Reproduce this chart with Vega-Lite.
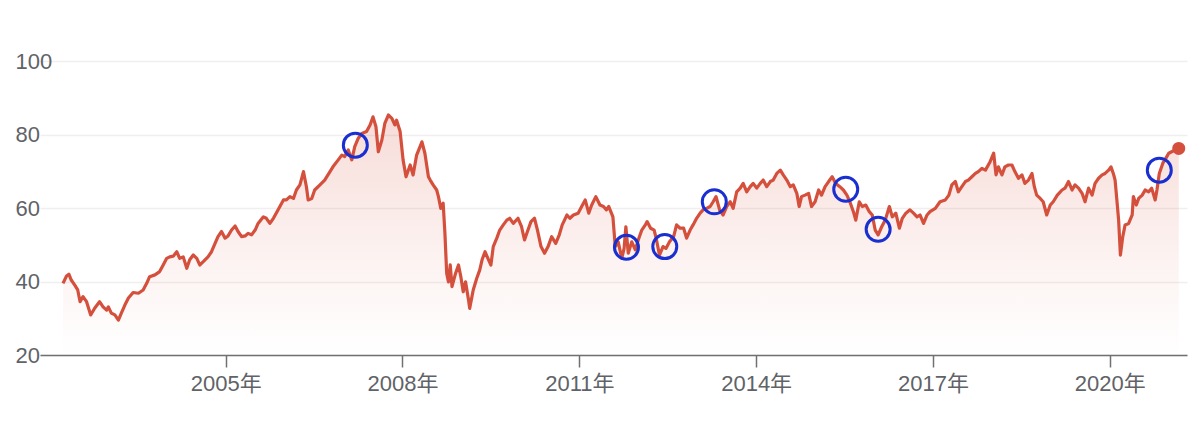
{
  "$schema": "https://vega.github.io/schema/vega-lite/v6.json",
  "width": 1147,
  "height": 294,
  "autosize": {"type": "none"},
  "padding": {"left": 40, "top": 61, "right": 13, "bottom": 71},
  "background": "#ffffff",
  "view": {"stroke": null},
  "config": {
    "font": "Liberation Sans, Arial, Noto Sans CJK SC, sans-serif"
  },
  "datasets": {
    "series": [
      {"year": 2002.24, "value": 39.5}, {"year": 2002.30, "value": 41.5}, {"year": 2002.34, "value": 42.0}, {"year": 2002.38, "value": 40.4},
      {"year": 2002.44, "value": 39.0}, {"year": 2002.49, "value": 37.7}, {"year": 2002.53, "value": 34.5}, {"year": 2002.58, "value": 35.9},
      {"year": 2002.64, "value": 34.5}, {"year": 2002.71, "value": 30.9}, {"year": 2002.78, "value": 32.8}, {"year": 2002.86, "value": 34.5},
      {"year": 2002.92, "value": 33.1}, {"year": 2002.98, "value": 32.2}, {"year": 2003.01, "value": 33.1}, {"year": 2003.06, "value": 31.4},
      {"year": 2003.12, "value": 30.9}, {"year": 2003.18, "value": 29.5}, {"year": 2003.23, "value": 31.4}, {"year": 2003.29, "value": 33.6},
      {"year": 2003.35, "value": 35.5}, {"year": 2003.43, "value": 37.0}, {"year": 2003.52, "value": 36.8}, {"year": 2003.60, "value": 37.7},
      {"year": 2003.66, "value": 39.5}, {"year": 2003.71, "value": 41.3}, {"year": 2003.80, "value": 41.8}, {"year": 2003.88, "value": 42.7},
      {"year": 2003.94, "value": 44.5}, {"year": 2004.00, "value": 46.3}, {"year": 2004.05, "value": 46.7}, {"year": 2004.11, "value": 46.9},
      {"year": 2004.17, "value": 48.1}, {"year": 2004.22, "value": 46.3}, {"year": 2004.28, "value": 46.7}, {"year": 2004.34, "value": 43.6},
      {"year": 2004.39, "value": 45.9}, {"year": 2004.45, "value": 47.2}, {"year": 2004.51, "value": 46.3}, {"year": 2004.56, "value": 44.5},
      {"year": 2004.62, "value": 45.4}, {"year": 2004.70, "value": 46.7}, {"year": 2004.76, "value": 48.1}, {"year": 2004.82, "value": 50.4},
      {"year": 2004.87, "value": 52.2}, {"year": 2004.93, "value": 53.6}, {"year": 2004.99, "value": 51.8}, {"year": 2005.04, "value": 52.4},
      {"year": 2005.10, "value": 54.0}, {"year": 2005.16, "value": 55.1}, {"year": 2005.21, "value": 53.6}, {"year": 2005.27, "value": 52.2},
      {"year": 2005.33, "value": 52.4}, {"year": 2005.38, "value": 53.1}, {"year": 2005.44, "value": 52.7}, {"year": 2005.50, "value": 54.0},
      {"year": 2005.55, "value": 55.8}, {"year": 2005.64, "value": 57.6}, {"year": 2005.69, "value": 57.2}, {"year": 2005.75, "value": 55.8},
      {"year": 2005.81, "value": 57.2}, {"year": 2005.89, "value": 59.5}, {"year": 2005.98, "value": 62.2}, {"year": 2006.03, "value": 62.2},
      {"year": 2006.09, "value": 63.1}, {"year": 2006.15, "value": 62.6}, {"year": 2006.20, "value": 64.9}, {"year": 2006.26, "value": 66.3},
      {"year": 2006.32, "value": 69.9}, {"year": 2006.37, "value": 65.8}, {"year": 2006.40, "value": 62.2}, {"year": 2006.46, "value": 62.6},
      {"year": 2006.51, "value": 64.9}, {"year": 2006.60, "value": 66.3}, {"year": 2006.68, "value": 67.6}, {"year": 2006.77, "value": 69.9},
      {"year": 2006.82, "value": 71.2}, {"year": 2006.91, "value": 73.1}, {"year": 2006.97, "value": 74.4}, {"year": 2007.02, "value": 74.0},
      {"year": 2007.08, "value": 75.8}, {"year": 2007.14, "value": 73.1}, {"year": 2007.19, "value": 76.7}, {"year": 2007.25, "value": 79.0},
      {"year": 2007.31, "value": 80.3}, {"year": 2007.39, "value": 80.8}, {"year": 2007.45, "value": 82.6}, {"year": 2007.50, "value": 84.8},
      {"year": 2007.55, "value": 82.1}, {"year": 2007.59, "value": 75.3}, {"year": 2007.65, "value": 78.5}, {"year": 2007.70, "value": 83.0},
      {"year": 2007.76, "value": 85.3}, {"year": 2007.82, "value": 84.4}, {"year": 2007.87, "value": 82.6}, {"year": 2007.90, "value": 83.9},
      {"year": 2007.96, "value": 80.8}, {"year": 2008.01, "value": 73.1}, {"year": 2008.06, "value": 68.5}, {"year": 2008.13, "value": 71.7},
      {"year": 2008.18, "value": 69.0}, {"year": 2008.24, "value": 74.4}, {"year": 2008.33, "value": 78.0}, {"year": 2008.38, "value": 74.9},
      {"year": 2008.44, "value": 68.5}, {"year": 2008.47, "value": 67.6}, {"year": 2008.52, "value": 66.3}, {"year": 2008.58, "value": 64.9},
      {"year": 2008.61, "value": 63.1}, {"year": 2008.65, "value": 59.9}, {"year": 2008.69, "value": 61.3}, {"year": 2008.72, "value": 53.1},
      {"year": 2008.75, "value": 42.2}, {"year": 2008.78, "value": 39.9}, {"year": 2008.81, "value": 44.5}, {"year": 2008.84, "value": 38.6},
      {"year": 2008.90, "value": 42.2}, {"year": 2008.95, "value": 44.5}, {"year": 2008.99, "value": 41.3}, {"year": 2009.03, "value": 37.2},
      {"year": 2009.07, "value": 39.9}, {"year": 2009.12, "value": 35.0}, {"year": 2009.14, "value": 32.7}, {"year": 2009.20, "value": 37.7},
      {"year": 2009.26, "value": 40.9}, {"year": 2009.31, "value": 43.1}, {"year": 2009.35, "value": 45.9}, {"year": 2009.40, "value": 48.1},
      {"year": 2009.46, "value": 45.9}, {"year": 2009.50, "value": 44.5}, {"year": 2009.54, "value": 49.5}, {"year": 2009.60, "value": 51.8},
      {"year": 2009.65, "value": 54.0}, {"year": 2009.71, "value": 55.4}, {"year": 2009.77, "value": 56.7}, {"year": 2009.82, "value": 57.2},
      {"year": 2009.88, "value": 55.8}, {"year": 2009.96, "value": 57.2}, {"year": 2010.02, "value": 54.9}, {"year": 2010.07, "value": 51.3},
      {"year": 2010.12, "value": 53.6}, {"year": 2010.18, "value": 56.3}, {"year": 2010.24, "value": 57.2}, {"year": 2010.29, "value": 54.0},
      {"year": 2010.35, "value": 49.5}, {"year": 2010.41, "value": 47.7}, {"year": 2010.47, "value": 49.5}, {"year": 2010.53, "value": 52.2},
      {"year": 2010.60, "value": 50.4}, {"year": 2010.66, "value": 52.7}, {"year": 2010.71, "value": 55.4}, {"year": 2010.79, "value": 58.1},
      {"year": 2010.84, "value": 57.2}, {"year": 2010.90, "value": 58.1}, {"year": 2010.98, "value": 58.6}, {"year": 2011.04, "value": 60.4},
      {"year": 2011.10, "value": 62.2}, {"year": 2011.16, "value": 58.6}, {"year": 2011.21, "value": 60.8}, {"year": 2011.28, "value": 63.1},
      {"year": 2011.35, "value": 60.8}, {"year": 2011.41, "value": 60.4}, {"year": 2011.46, "value": 59.5}, {"year": 2011.50, "value": 60.4},
      {"year": 2011.57, "value": 57.6}, {"year": 2011.61, "value": 49.5}, {"year": 2011.66, "value": 50.8}, {"year": 2011.72, "value": 46.3},
      {"year": 2011.76, "value": 49.0}, {"year": 2011.79, "value": 54.9}, {"year": 2011.83, "value": 47.7}, {"year": 2011.89, "value": 50.8},
      {"year": 2011.95, "value": 48.6}, {"year": 2012.00, "value": 51.3}, {"year": 2012.06, "value": 54.0}, {"year": 2012.12, "value": 55.4},
      {"year": 2012.15, "value": 56.3}, {"year": 2012.21, "value": 54.5}, {"year": 2012.27, "value": 54.0}, {"year": 2012.31, "value": 51.3},
      {"year": 2012.36, "value": 47.2}, {"year": 2012.42, "value": 49.5}, {"year": 2012.47, "value": 49.0}, {"year": 2012.53, "value": 50.8},
      {"year": 2012.60, "value": 52.2}, {"year": 2012.65, "value": 55.4}, {"year": 2012.71, "value": 54.5}, {"year": 2012.77, "value": 54.5},
      {"year": 2012.82, "value": 51.8}, {"year": 2012.88, "value": 54.0}, {"year": 2012.93, "value": 55.4}, {"year": 2012.99, "value": 57.2},
      {"year": 2013.05, "value": 58.6}, {"year": 2013.10, "value": 59.5}, {"year": 2013.16, "value": 59.9}, {"year": 2013.22, "value": 60.4},
      {"year": 2013.27, "value": 61.7}, {"year": 2013.32, "value": 63.1}, {"year": 2013.38, "value": 59.5}, {"year": 2013.44, "value": 58.1},
      {"year": 2013.50, "value": 60.4}, {"year": 2013.56, "value": 61.7}, {"year": 2013.61, "value": 59.9}, {"year": 2013.67, "value": 64.4},
      {"year": 2013.73, "value": 65.4}, {"year": 2013.78, "value": 66.7}, {"year": 2013.84, "value": 64.4}, {"year": 2013.90, "value": 65.8},
      {"year": 2013.95, "value": 66.7}, {"year": 2014.01, "value": 65.4}, {"year": 2014.07, "value": 66.7}, {"year": 2014.12, "value": 67.6},
      {"year": 2014.18, "value": 65.8}, {"year": 2014.24, "value": 67.2}, {"year": 2014.29, "value": 67.6}, {"year": 2014.35, "value": 69.4},
      {"year": 2014.41, "value": 70.3}, {"year": 2014.46, "value": 69.0}, {"year": 2014.52, "value": 67.6}, {"year": 2014.58, "value": 65.8},
      {"year": 2014.63, "value": 66.3}, {"year": 2014.69, "value": 64.0}, {"year": 2014.73, "value": 60.4}, {"year": 2014.77, "value": 63.1},
      {"year": 2014.83, "value": 63.5}, {"year": 2014.89, "value": 64.0}, {"year": 2014.94, "value": 60.4}, {"year": 2015.00, "value": 61.7},
      {"year": 2015.06, "value": 64.9}, {"year": 2015.11, "value": 63.5}, {"year": 2015.17, "value": 65.8}, {"year": 2015.23, "value": 67.2},
      {"year": 2015.29, "value": 68.5}, {"year": 2015.35, "value": 66.7}, {"year": 2015.42, "value": 65.8}, {"year": 2015.48, "value": 64.9},
      {"year": 2015.54, "value": 63.5}, {"year": 2015.59, "value": 61.7}, {"year": 2015.65, "value": 59.0}, {"year": 2015.69, "value": 56.7},
      {"year": 2015.75, "value": 61.7}, {"year": 2015.80, "value": 60.4}, {"year": 2015.86, "value": 60.8}, {"year": 2015.92, "value": 59.0},
      {"year": 2015.97, "value": 58.1}, {"year": 2016.02, "value": 54.0}, {"year": 2016.07, "value": 52.7}, {"year": 2016.13, "value": 54.9},
      {"year": 2016.19, "value": 56.7}, {"year": 2016.26, "value": 60.4}, {"year": 2016.31, "value": 57.6}, {"year": 2016.37, "value": 58.6},
      {"year": 2016.43, "value": 54.5}, {"year": 2016.48, "value": 57.2}, {"year": 2016.54, "value": 58.6}, {"year": 2016.61, "value": 59.5},
      {"year": 2016.67, "value": 58.6}, {"year": 2016.73, "value": 57.6}, {"year": 2016.78, "value": 58.1}, {"year": 2016.84, "value": 55.8},
      {"year": 2016.90, "value": 58.1}, {"year": 2016.95, "value": 59.0}, {"year": 2017.04, "value": 59.9}, {"year": 2017.12, "value": 61.7},
      {"year": 2017.21, "value": 62.2}, {"year": 2017.27, "value": 63.5}, {"year": 2017.32, "value": 66.3}, {"year": 2017.38, "value": 67.2},
      {"year": 2017.43, "value": 64.4}, {"year": 2017.49, "value": 65.8}, {"year": 2017.55, "value": 67.2}, {"year": 2017.60, "value": 67.6},
      {"year": 2017.66, "value": 68.5}, {"year": 2017.72, "value": 69.4}, {"year": 2017.77, "value": 69.9}, {"year": 2017.83, "value": 70.8},
      {"year": 2017.89, "value": 70.3}, {"year": 2017.97, "value": 72.6}, {"year": 2018.03, "value": 74.9}, {"year": 2018.07, "value": 69.0},
      {"year": 2018.11, "value": 71.2}, {"year": 2018.17, "value": 69.0}, {"year": 2018.22, "value": 71.2}, {"year": 2018.28, "value": 71.7},
      {"year": 2018.34, "value": 71.7}, {"year": 2018.39, "value": 69.9}, {"year": 2018.45, "value": 68.1}, {"year": 2018.51, "value": 69.0},
      {"year": 2018.56, "value": 66.7}, {"year": 2018.62, "value": 67.6}, {"year": 2018.68, "value": 69.4}, {"year": 2018.72, "value": 65.8},
      {"year": 2018.76, "value": 63.5}, {"year": 2018.82, "value": 62.6}, {"year": 2018.87, "value": 61.7}, {"year": 2018.93, "value": 58.1},
      {"year": 2018.99, "value": 60.8}, {"year": 2019.04, "value": 61.7}, {"year": 2019.11, "value": 63.5}, {"year": 2019.19, "value": 64.9},
      {"year": 2019.24, "value": 65.4}, {"year": 2019.30, "value": 67.2}, {"year": 2019.36, "value": 64.9}, {"year": 2019.41, "value": 66.3},
      {"year": 2019.47, "value": 65.4}, {"year": 2019.53, "value": 64.0}, {"year": 2019.58, "value": 61.7}, {"year": 2019.64, "value": 65.4},
      {"year": 2019.70, "value": 63.5}, {"year": 2019.75, "value": 66.7}, {"year": 2019.81, "value": 68.1}, {"year": 2019.87, "value": 69.0},
      {"year": 2019.92, "value": 69.4}, {"year": 2019.98, "value": 70.3}, {"year": 2020.02, "value": 71.2}, {"year": 2020.06, "value": 69.4},
      {"year": 2020.09, "value": 67.6}, {"year": 2020.12, "value": 62.2}, {"year": 2020.15, "value": 56.7}, {"year": 2020.18, "value": 47.2},
      {"year": 2020.22, "value": 52.2}, {"year": 2020.26, "value": 55.4}, {"year": 2020.32, "value": 55.8}, {"year": 2020.38, "value": 58.1},
      {"year": 2020.40, "value": 63.1}, {"year": 2020.45, "value": 60.8}, {"year": 2020.49, "value": 62.6}, {"year": 2020.55, "value": 63.5},
      {"year": 2020.60, "value": 64.9}, {"year": 2020.66, "value": 64.4}, {"year": 2020.71, "value": 65.4}, {"year": 2020.77, "value": 62.2},
      {"year": 2020.80, "value": 64.9}, {"year": 2020.84, "value": 69.4}, {"year": 2020.90, "value": 72.2}, {"year": 2020.95, "value": 73.5},
      {"year": 2021.00, "value": 74.9}, {"year": 2021.05, "value": 75.3}, {"year": 2021.11, "value": 75.8}, {"year": 2021.17, "value": 76.2}
    ],
    "circles": [
      {"year": 2007.20, "value": 77.1},
      {"year": 2011.80, "value": 49.3},
      {"year": 2012.45, "value": 49.5},
      {"year": 2013.29, "value": 61.7},
      {"year": 2015.52, "value": 65.1},
      {"year": 2016.07, "value": 54.2},
      {"year": 2020.84, "value": 70.3}
    ]
  },
  "layer": [
    {
      "data": {"name": "series"},
      "mark": {
        "type": "area",
        "interpolate": "linear",
        "fill": {
          "gradient": "linear",
          "x1": 0, "y1": 0, "x2": 0, "y2": 1,
          "stops": [
            {"offset": 0, "color": "rgba(214,80,60,0.20)"},
            {"offset": 0.6, "color": "rgba(214,80,60,0.07)"},
            {"offset": 1, "color": "rgba(214,80,60,0.0)"}
          ]
        }
      },
      "encoding": {
        "x": {
          "field": "year",
          "type": "quantitative",
          "scale": {"domain": [2001.85, 2021.31], "nice": false, "zero": false},
          "axis": {
            "title": null,
            "values": [2005, 2008, 2011, 2014, 2017, 2020],
            "labelExpr": "datum.value + '年'",
            "grid": false,
            "domain": true,
            "domainColor": "#707070",
            "domainWidth": 1.5,
            "ticks": true,
            "tickColor": "#707070",
            "tickWidth": 1.5,
            "tickSize": 12,
            "labelPadding": 6,
            "labelFontSize": 22,
            "labelColor": "#5f6368",
            "labelFont": "Liberation Sans, Noto Sans CJK SC, sans-serif"
          }
        },
        "y": {
          "field": "value",
          "type": "quantitative",
          "scale": {"domain": [20, 100], "nice": false, "zero": false},
          "axis": {
            "title": null,
            "values": [20, 40, 60, 80, 100],
            "grid": true,
            "gridColor": "#efefef",
            "gridWidth": 1.5,
            "domain": false,
            "ticks": false,
            "labelAlign": "left",
            "labelBaseline": "middle",
            "labelPadding": 25,
            "labelFontSize": 22,
            "labelColor": "#5f6368",
            "labelFont": "Liberation Sans, sans-serif"
          }
        },
        "y2": {"datum": 20}
      }
    },
    {
      "data": {"name": "series"},
      "mark": {"type": "line", "color": "#d4503d", "strokeWidth": 3.2, "strokeJoin": "round"},
      "encoding": {
        "x": {"field": "year", "type": "quantitative"},
        "y": {"field": "value", "type": "quantitative"}
      }
    },
    {
      "data": {"name": "series"},
      "transform": [{"filter": "datum.year == 2021.17"}],
      "mark": {"type": "point", "shape": "circle", "filled": true, "color": "#d4503d", "size": 170, "opacity": 1},
      "encoding": {
        "x": {"field": "year", "type": "quantitative"},
        "y": {"field": "value", "type": "quantitative"}
      }
    },
    {
      "data": {"name": "circles"},
      "mark": {"type": "point", "shape": "circle", "filled": false, "stroke": "#1a2fd0", "strokeWidth": 3, "size": 576, "opacity": 1},
      "encoding": {
        "x": {"field": "year", "type": "quantitative"},
        "y": {"field": "value", "type": "quantitative"}
      }
    }
  ]
}
